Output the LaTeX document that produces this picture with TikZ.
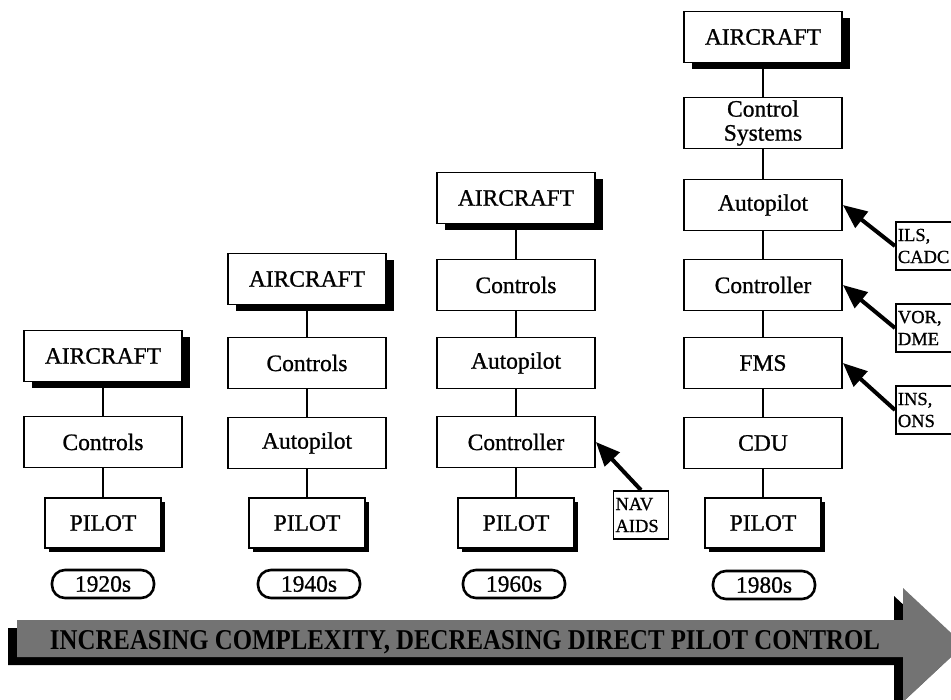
\documentclass[tikz,border=0pt]{standalone}
\usepackage{fontspec}
\setmainfont{Liberation Serif}
\newfontfamily\boxfont{Liberation Serif}[FakeBold=0.9]
\usetikzlibrary{arrows.meta,shadows}

\begin{document}
\begin{tikzpicture}[x=1pt,y=-1pt,
  box/.style={draw, line width=1.8pt, fill=white, minimum width=158pt, minimum height=51pt,
    inner sep=0pt, align=center, font=\boxfont\fontsize{23.5}{24}\selectfont},
  craft/.style={box, drop shadow={shadow xshift=8pt, shadow yshift=-7pt, fill=black, opacity=1}},
  pilot/.style={box, minimum width=116pt, minimum height=50pt,
    drop shadow={shadow xshift=4pt, shadow yshift=-4pt, fill=black, opacity=1}},
  decade/.style={draw, line width=2.6pt, rounded corners=13pt, minimum width=102pt,
    minimum height=28pt, inner sep=0pt, font=\boxfont\fontsize{23.5}{24}\selectfont},
  aid/.style={draw, line width=1.8pt, fill=white, minimum height=48pt, inner ysep=0pt,
    inner xsep=2pt, align=left, font=\boxfont\fontsize{18.5}{22}\selectfont},
  link/.style={line width=2.6pt},
  feed/.style={line width=4pt, -{Triangle[length=24pt,width=20pt]}}]

  \useasboundingbox (0,0) rectangle (951,700);
  \clip (0,0) rectangle (951,700);

  % 1920s
  \node[craft] (air1) at (103,356) {AIRCRAFT};
  \node[box]   (ctl1) at (103,442) {Controls};
  \node[pilot] (pil1) at (103,523) {PILOT};
  \node[decade] (yr1) at (103,584) {1920s};
  \draw[link] (air1) -- (ctl1) -- (pil1);

  % 1940s
  \node[craft] (air2) at (307,279) {AIRCRAFT};
  \node[box]   (ctl2) at (307,363) {Controls};
  \node[box]   (aut2) at (307,443) {Autopilot};
  \node[pilot] (pil2) at (307,523) {PILOT};
  \node[decade] (yr2) at (309,584) {1940s};
  \draw[link] (air2) -- (ctl2) -- (aut2) -- (pil2);

  % 1960s
  \node[craft] (air3) at (516,198) {AIRCRAFT};
  \node[box]   (ctl3) at (516,285) {Controls};
  \node[box]   (aut3) at (516,363) {Autopilot};
  \node[box]   (con3) at (516,442) {Controller};
  \node[pilot] (pil3) at (516,523) {PILOT};
  \node[decade] (yr3) at (514,584) {1960s};
  \draw[link] (air3) -- (ctl3) -- (aut3) -- (con3) -- (pil3);

  \node[aid, text width=51pt] (nav) at (641,515) {NAV\\AIDS};
  \draw[feed] (nav.north) -- (con3.east);

  % 1980s
  \node[craft] (air4) at (763,37)  {AIRCRAFT};
  \node[box]   (sys4) at (763,123) {Control\\Systems};
  \node[box]   (aut4) at (763,205) {Autopilot};
  \node[box]   (con4) at (763,285) {Controller};
  \node[box]   (fms4) at (763,363) {FMS};
  \node[box]   (cdu4) at (763,443) {CDU};
  \node[pilot] (pil4) at (763,523) {PILOT};
  \node[decade] (yr4) at (764,585) {1980s};
  \draw[link] (air4) -- (sys4) -- (aut4) -- (con4) -- (fms4) -- (cdu4) -- (pil4);

  % Eingaenge rechts
  \node[aid, anchor=west, text width=66pt] (ils) at (895,246) {ILS,\\CADC};
  \node[aid, anchor=west, text width=66pt] (vor) at (895,328) {VOR,\\DME};
  \node[aid, anchor=west, text width=66pt] (ins) at (895,410) {INS,\\ONS};
  \draw[feed] (ils.west) -- (aut4.east);
  \draw[feed] (vor.west) -- (con4.east);
  \draw[feed] (ins.west) -- (fms4.east);

  % Pfeil unten
  \fill[black, shift={(-9,8)}] (17,620) -- (903,620) -- (903,588) -- (964,645)
    -- (903,702) -- (903,657) -- (17,657) -- cycle;
  \fill[black!55] (17,620) -- (903,620) -- (903,588) -- (964,645)
    -- (903,702) -- (903,657) -- (17,657) -- cycle;
  \node (trend) at (465,642)
    {\resizebox{830pt}{19pt}{\bfseries INCREASING COMPLEXITY, DECREASING DIRECT PILOT CONTROL}};
\end{tikzpicture}
\end{document}
